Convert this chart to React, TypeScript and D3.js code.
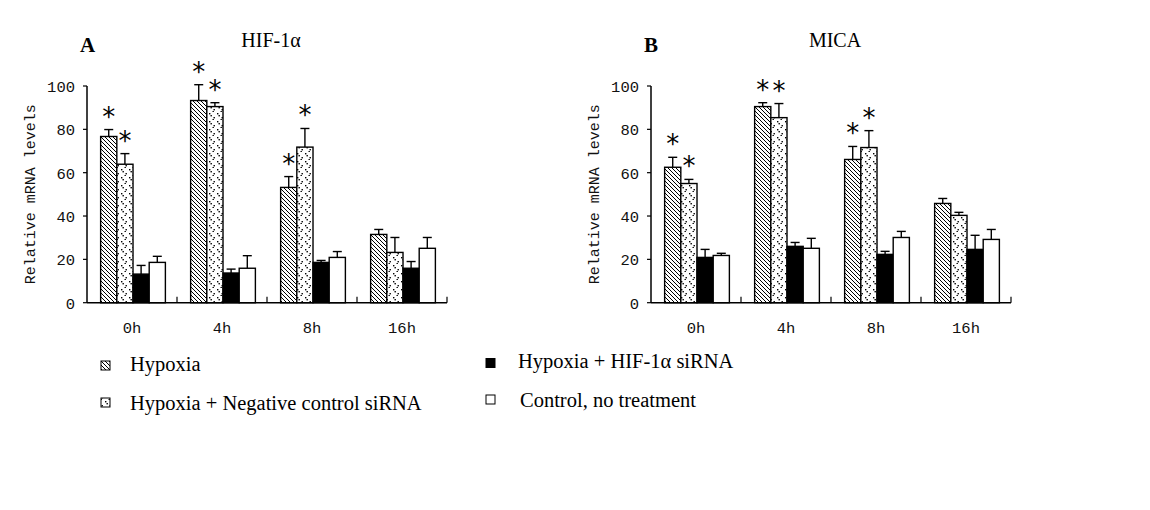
import React from 'react';
import * as d3 from 'd3';

const categories = ['0h', '4h', '8h', '16h'];
const seriesNames = [
  'Hypoxia',
  'Hypoxia + Negative control siRNA',
  'Hypoxia + HIF-1α siRNA',
  'Control, no treatment',
];
const yTicks = [0, 20, 40, 60, 80, 100];

// HIF-1α panel
const hifHypoxia = [76.7, 93.3, 53.2, 31.5];
const hifHypoxiaErr = [3.2, 7.3, 5.0, 2.3];
const hifNegCtrl = [63.9, 90.5, 71.8, 23.2];
const hifNegCtrlErr = [4.9, 1.8, 8.6, 6.9];
const hifSiRNA = [13.2, 13.7, 18.6, 15.9];
const hifSiRNAErr = [4.0, 1.8, 0.9, 3.1];
const hifControl = [18.6, 15.9, 20.9, 25.1];
const hifControlErr = [2.8, 5.8, 2.7, 5.0];

// MICA panel
const micaHypoxia = [62.5, 90.5, 66.1, 45.8];
const micaHypoxiaErr = [4.6, 1.8, 6.0, 2.3];
const micaNegCtrl = [55.0, 85.4, 71.6, 40.3];
const micaNegCtrlErr = [1.9, 6.5, 7.8, 1.4];
const micaSiRNA = [20.9, 26.0, 22.3, 24.6];
const micaSiRNAErr = [3.7, 1.8, 1.4, 6.5];
const micaControl = [21.8, 25.1, 30.1, 29.2];
const micaControlErr = [1.0, 4.6, 2.8, 4.6];

// significance flags (asterisks): per series, per category
const sigHypoxia = [true, true, true, false];
const sigNegCtrl = [true, true, true, false];
const sigSiRNA = [false, false, false, false];
const sigControl = [false, false, false, false];

const fills = ['url(#hatch)', 'url(#dots)', '#000', '#fff'];

type PanelProps = {
  left: number;
  letter: string;
  title: string;
  means: number[][];
  errs: number[][];
  sig: boolean[][];
};

const TOP = 86;
const BOTTOM = 302.7;
const WIDTH = 360;

function Panel({ left, letter, title, means, errs, sig }: PanelProps) {
  const y = d3.scaleLinear().domain([0, 100]).range([BOTTOM, TOP]);
  const x0 = d3.scaleBand<string>().domain(categories).range([left, left + WIDTH]).padding(0);
  const x1 = d3
    .scaleBand<string>()
    .domain(seriesNames)
    .range([0, x0.bandwidth()])
    .paddingInner(0)
    .paddingOuter(0.78)
    .align(0.54);
  const bw = x1.bandwidth();
  const mono = 'Liberation Mono, DejaVu Sans Mono, monospace';
  const serif = 'Liberation Serif, Times New Roman, serif';
  return (
    <g>
      <text x={left - 7} y={52} fontFamily={serif} fontWeight="bold" fontSize={21}>
        {letter}
      </text>
      <text x={left + WIDTH / 2 + 4} y={47} textAnchor="middle" fontFamily={serif} fontSize={20}>
        {title}
      </text>
      {/* y axis label */}
      <text
        transform={`translate(${left - 56},${(TOP + BOTTOM) / 2}) rotate(-90)`}
        textAnchor="middle"
        dominantBaseline="central"
        fontFamily={mono}
        fontSize={15}
        fill="#111"
      >
        Relative mRNA levels
      </text>
      {/* bars */}
      {categories.map((c, ci) =>
        seriesNames.map((s, si) => {
          const v = means[si][ci];
          const e = errs[si][ci];
          const bx = (x0(c) as number) + (x1(s) as number);
          const cx = bx + bw / 2;
          const yTop = y(v + e);
          return (
            <g key={c + s}>
              <line x1={cx} x2={cx} y1={y(v)} y2={yTop} stroke="#000" strokeWidth={1.4} />
              <line x1={cx - 4.5} x2={cx + 4.5} y1={yTop} y2={yTop} stroke="#000" strokeWidth={1.4} />
              <rect
                x={bx}
                y={y(v)}
                width={bw}
                height={y(0) - y(v)}
                fill={fills[si]}
                stroke="#000"
                strokeWidth={1.4}
              />
              {sig[si][ci] && (
                <text
                  x={cx}
                  y={yTop - 4}
                  textAnchor="middle"
                  fontFamily="DejaVu Sans, sans-serif"
                  fontSize={26}
                  fill="#000"
                >
                  *
                </text>
              )}
            </g>
          );
        })
      )}
      {/* axes */}
      <line x1={left} x2={left} y1={TOP} y2={BOTTOM} stroke="#000" strokeWidth={1.5} />
      <line x1={left} x2={left + WIDTH} y1={BOTTOM} y2={BOTTOM} stroke="#000" strokeWidth={1.5} />
      {yTicks.map((t) => (
        <g key={t}>
          <line x1={left - 4} x2={left} y1={y(t)} y2={y(t)} stroke="#000" strokeWidth={1.2} />
          <text
            x={left - 12}
            y={y(t) + 2}
            textAnchor="end"
            dominantBaseline="central"
            fontFamily={mono}
            fontSize={15.5}
            fill="#111"
          >
            {t}
          </text>
        </g>
      ))}
      {categories.map((c) => (
        <g key={c}>
          <line
            x1={(x0(c) as number) + x0.bandwidth()}
            x2={(x0(c) as number) + x0.bandwidth()}
            y1={BOTTOM}
            y2={BOTTOM - 6}
            stroke="#000"
            strokeWidth={1.2}
          />
          <text
            x={(x0(c) as number) + x0.bandwidth() / 2}
            y={333}
            textAnchor="middle"
            fontFamily={mono}
            fontSize={15.5}
            fill="#111"
          >
            {c}
          </text>
        </g>
      ))}
    </g>
  );
}

export default function App() {
  const serif = 'Liberation Serif, Times New Roman, serif';
  const legendPos = [
    { sx: 101, sy: 361, tx: 130, ty: 371 },
    { sx: 101, sy: 398, tx: 130, ty: 410 },
    { sx: 486, sy: 358.5, tx: 518, ty: 368 },
    { sx: 486, sy: 395, tx: 520, ty: 407 },
  ];
  return (
    <svg
      width={1150}
      height={510}
      style={{ position: 'absolute', left: 0, top: 0, background: '#fff' }}
    >
      <defs>
        <pattern id="hatch" patternUnits="userSpaceOnUse" width={4} height={4}>
          <rect width={4} height={4} fill="#fff" />
          <path d="M-1,-1 L5,5 M-1,3 L1,5 M3,-1 L5,1" stroke="#000" strokeWidth={1} />
        </pattern>
        <pattern id="dots" patternUnits="userSpaceOnUse" width={8} height={8}>
          <rect width={8} height={8} fill="#fff" />
          <rect x={1} y={1} width={1.4} height={1.4} fill="#000" />
          <rect x={2.5} y={3} width={1.4} height={1.4} fill="#000" />
          <rect x={5.5} y={5} width={1.4} height={1.4} fill="#000" />
          <rect x={4.5} y={7} width={1.4} height={1.4} fill="#000" />
        </pattern>
      </defs>
      <rect width={1150} height={510} fill="#fff" />
      <Panel
        left={87}
        letter="A"
        title="HIF-1α"
        means={[hifHypoxia, hifNegCtrl, hifSiRNA, hifControl]}
        errs={[hifHypoxiaErr, hifNegCtrlErr, hifSiRNAErr, hifControlErr]}
        sig={[sigHypoxia, sigNegCtrl, sigSiRNA, sigControl]}
      />
      <Panel
        left={651}
        letter="B"
        title="MICA"
        means={[micaHypoxia, micaNegCtrl, micaSiRNA, micaControl]}
        errs={[micaHypoxiaErr, micaNegCtrlErr, micaSiRNAErr, micaControlErr]}
        sig={[sigHypoxia, sigNegCtrl, sigSiRNA, sigControl]}
      />
      {seriesNames.map((s, i) => (
        <g key={s}>
          <rect
            x={legendPos[i].sx}
            y={legendPos[i].sy}
            width={9}
            height={9}
            fill={fills[i]}
            stroke="#000"
            strokeWidth={1}
          />
          <text x={legendPos[i].tx} y={legendPos[i].ty} fontFamily={serif} fontSize={20.5}>
            {s}
          </text>
        </g>
      ))}
    </svg>
  );
}
